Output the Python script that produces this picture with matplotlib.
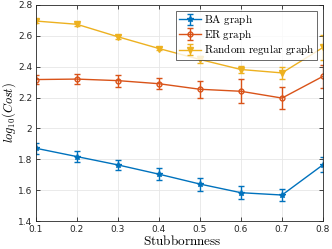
import numpy as np
import matplotlib.pyplot as plt

plt.rcParams['mathtext.fontset'] = 'cm'

x = [0.1, 0.2, 0.3, 0.4, 0.5, 0.6, 0.7, 0.8]
ba = [1.872, 1.818, 1.764, 1.704, 1.640, 1.584, 1.569, 1.765]
ba_err = [0.036, 0.035, 0.035, 0.038, 0.042, 0.041, 0.040, 0.050]
er = [2.317, 2.320, 2.310, 2.290, 2.254, 2.241, 2.197, 2.338]
er_err = [0.031, 0.030, 0.039, 0.036, 0.054, 0.079, 0.070, 0.076]
rr = [2.696, 2.675, 2.594, 2.518, 2.447, 2.382, 2.360, 2.525]
rr_err = [0.010, 0.010, 0.012, 0.012, 0.020, 0.020, 0.040, 0.080]

xticks = [0.1, 0.2, 0.3, 0.4, 0.5, 0.6, 0.7, 0.8]
yticks = [1.4, 1.6, 1.8, 2.0, 2.2, 2.4, 2.6, 2.8]
ytick_labels = ['1.4', '1.6', '1.8', '2', '2.2', '2.4', '2.6', '2.8']

fig = plt.figure(figsize=(3.32, 2.49), dpi=100)
ax = fig.add_axes([0.108, 0.112, 0.865, 0.868])

ax.errorbar(x, ba, yerr=ba_err, color='#0072BD', marker='*', markersize=4,
            capsize=2, linewidth=1, label='BA graph')
ax.errorbar(x, er, yerr=er_err, color='#D95319', marker='o', markersize=3.5,
            markerfacecolor='none', capsize=2, linewidth=1, label='ER graph')
ax.errorbar(x, rr, yerr=rr_err, color='#EDB120', marker='v', markersize=4,
            capsize=2, linewidth=1, label='Random regular graph')

ax.set_xlim(0.1, 0.8)
ax.set_ylim(1.4, 2.8)
ax.set_xticks(xticks)
ax.set_xticklabels([str(t) for t in xticks])
ax.set_yticks(yticks)
ax.set_yticklabels(ytick_labels)
ax.tick_params(direction='in', top=True, right=True, labelsize=6.5,
               length=3, width=0.6, colors='#262626', pad=2.5)
ax.grid(True, color='#e6e6e6', linewidth=0.6)
ax.set_axisbelow(True)
for s in ax.spines.values():
    s.set_linewidth(0.6)
    s.set_color('#262626')

# axis labels placed in figure coords
fig.text(0.548, 0.032, r'$\mathrm{Stubbornness}$', fontsize=9.5,
         ha='center', va='center')
fig.text(0.026, 0.55, r'$log_{10}(Cost)$', fontsize=9, rotation=90,
         ha='center', va='center')

leg = ax.legend(loc='upper right', prop={'size': 8},
                fancybox=False, edgecolor='#262626', borderpad=0.25,
                handlelength=2.0, handletextpad=0.2, labelspacing=0.05,
                borderaxespad=0.5)
leg.get_frame().set_linewidth(0.6)
for t in leg.get_texts():
    t.set_text(r'$\mathrm{' + t.get_text().replace(' ', r'\ ') + '}$')

fig.savefig('out.png', dpi=100)
